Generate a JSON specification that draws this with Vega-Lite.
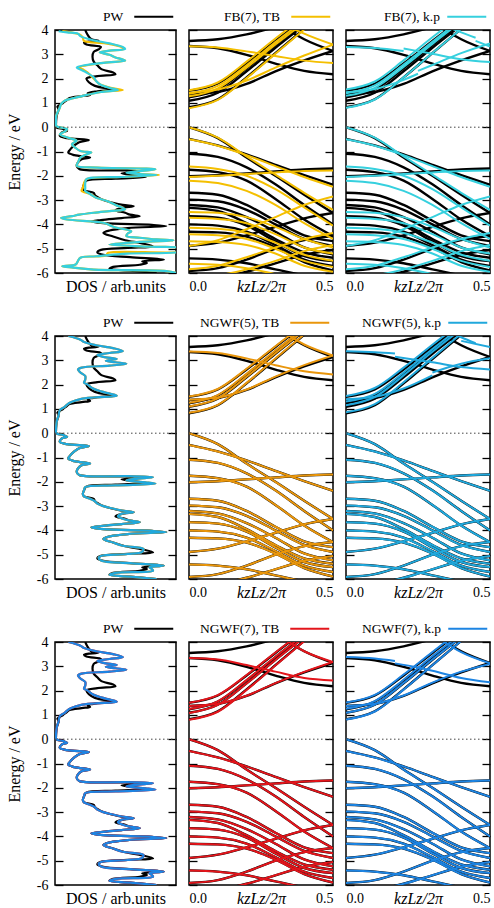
{
  "$schema": "https://vega.github.io/schema/vega-lite/v6.json",
  "padding": {"left": 5, "top": 9, "right": 0, "bottom": 0},
  "bounds": "flush",
  "columns": 3,
  "spacing": {"row": 63, "column": 13},
  "resolve": {"scale": {"stroke": "independent"}, "legend": {"stroke": "independent"}},
  "config": {
    "font": "Liberation Serif",
    "view": {"stroke": "#000", "strokeWidth": 1.5},
    "style": {"guide-label": {"font": "Liberation Serif", "fontWeight": "normal"}, "guide-title": {"font": "Liberation Serif", "fontWeight": "normal"}},
    "axis": {"grid": false, "domain": false, "tickColor": "#000", "labelColor": "#000", "titleColor": "#000", "labelFont": "Liberation Serif", "titleFont": "Liberation Serif", "labelFontSize": 14, "titleFontSize": 16, "titleFontWeight": "normal", "labelFontWeight": "normal"},
    "legend": {"orient": "none", "titleOrient": "left", "titleFont": "Liberation Serif", "titleFontSize": 13.5, "titleFontWeight": "normal", "titleColor": "#000", "titlePadding": 23, "symbolType": "M-39,0H39", "symbolSize": 1, "symbolStrokeWidth": 2, "labelFontSize": 13.5, "padding": 0}
  },
  "datasets": {
    "pw": [
      {"b":1,"k":0,"e":3.55},{"b":1,"k":0.1,"e":3.62},{"b":1,"k":0.2,"e":3.82},{"b":1,"k":0.3,"e":4.12},{"b":1,"k":0.4,"e":4.45},
      {"b":2,"k":0,"e":3.34},{"b":2,"k":0.1,"e":3.25},{"b":2,"k":0.2,"e":2.98},{"b":2,"k":0.3,"e":2.62},{"b":2,"k":0.4,"e":2.32},{"b":2,"k":0.5,"e":2.18},
      {"b":3,"k":0,"e":1.37},{"b":3,"k":0.1,"e":1.45},{"b":3,"k":0.2,"e":1.78},{"b":3,"k":0.3,"e":2.3},{"b":3,"k":0.4,"e":2.75},{"b":3,"k":0.5,"e":3.14},
      {"b":4,"k":0,"e":1.5},{"b":4,"k":0.1,"e":1.8},{"b":4,"k":0.2,"e":2.62},{"b":4,"k":0.3,"e":3.55},{"b":4,"k":0.4,"e":4.45},
      {"b":5,"k":0,"e":1.23},{"b":5,"k":0.1,"e":1.55},{"b":5,"k":0.2,"e":2.42},{"b":5,"k":0.3,"e":3.38},{"b":5,"k":0.4,"e":4.3},
      {"b":6,"k":0,"e":1.09},{"b":6,"k":0.1,"e":1.42},{"b":6,"k":0.2,"e":2.3},{"b":6,"k":0.3,"e":3.27},{"b":6,"k":0.4,"e":4.2},
      {"b":7,"k":0,"e":0.82},{"b":7,"k":0.1,"e":1.15},{"b":7,"k":0.2,"e":2.05},{"b":7,"k":0.3,"e":3.05},{"b":7,"k":0.4,"e":4.05},
      {"b":8,"k":0.25,"e":4.8},{"b":8,"k":0.3,"e":4.35},{"b":8,"k":0.4,"e":3.62},{"b":8,"k":0.5,"e":3.14},
      {"b":11,"k":0,"e":0},{"b":11,"k":0.1,"e":-0.45},{"b":11,"k":0.2,"e":-1.25},{"b":11,"k":0.3,"e":-2.0},{"b":11,"k":0.4,"e":-2.78},{"b":11,"k":0.5,"e":-3.53},
      {"b":12,"k":0,"e":-0.48},{"b":12,"k":0.1,"e":-0.75},{"b":12,"k":0.2,"e":-1.12},{"b":12,"k":0.3,"e":-1.55},{"b":12,"k":0.4,"e":-1.97},{"b":12,"k":0.5,"e":-2.37},
      {"b":13,"k":0,"e":-1.09},{"b":13,"k":0.1,"e":-1.22},{"b":13,"k":0.2,"e":-1.65},{"b":13,"k":0.3,"e":-2.35},{"b":13,"k":0.4,"e":-3.2},{"b":13,"k":0.5,"e":-4.0},
      {"b":14,"k":0,"e":-2.02},{"b":14,"k":0.1,"e":-1.98},{"b":14,"k":0.2,"e":-1.9},{"b":14,"k":0.3,"e":-1.82},{"b":14,"k":0.4,"e":-1.74},{"b":14,"k":0.5,"e":-1.7},
      {"b":15,"k":0,"e":-1.75},{"b":15,"k":0.1,"e":-1.85},{"b":15,"k":0.2,"e":-2.2},{"b":15,"k":0.3,"e":-2.95},{"b":15,"k":0.4,"e":-3.8},{"b":15,"k":0.5,"e":-4.48},
      {"b":16,"k":0,"e":-2.7},{"b":16,"k":0.1,"e":-2.78},{"b":16,"k":0.2,"e":-3.2},{"b":16,"k":0.3,"e":-3.85},{"b":16,"k":0.4,"e":-4.45},{"b":16,"k":0.5,"e":-4.69},
      {"b":17,"k":0,"e":-2.98},{"b":17,"k":0.1,"e":-3.05},{"b":17,"k":0.2,"e":-3.4},{"b":17,"k":0.3,"e":-4.0},{"b":17,"k":0.4,"e":-4.6},{"b":17,"k":0.5,"e":-4.89},
      {"b":18,"k":0,"e":-3.2},{"b":18,"k":0.1,"e":-3.3},{"b":18,"k":0.2,"e":-3.7},{"b":18,"k":0.3,"e":-4.3},{"b":18,"k":0.4,"e":-4.95},{"b":18,"k":0.5,"e":-5.23},
      {"b":19,"k":0,"e":-3.32},{"b":19,"k":0.1,"e":-3.45},{"b":19,"k":0.2,"e":-3.95},{"b":19,"k":0.3,"e":-4.6},{"b":19,"k":0.4,"e":-5.15},{"b":19,"k":0.5,"e":-5.37},
      {"b":20,"k":0,"e":-3.66},{"b":20,"k":0.1,"e":-3.72},{"b":20,"k":0.2,"e":-4.05},{"b":20,"k":0.3,"e":-4.7},{"b":20,"k":0.4,"e":-5.3},{"b":20,"k":0.5,"e":-5.51},
      {"b":21,"k":0,"e":-4.0},{"b":21,"k":0.1,"e":-4.05},{"b":21,"k":0.2,"e":-4.3},{"b":21,"k":0.3,"e":-4.85},{"b":21,"k":0.4,"e":-5.45},{"b":21,"k":0.5,"e":-5.71},
      {"b":22,"k":0,"e":-4.3},{"b":22,"k":0.1,"e":-4.33},{"b":22,"k":0.2,"e":-4.5},{"b":22,"k":0.3,"e":-4.95},{"b":22,"k":0.4,"e":-5.55},{"b":22,"k":0.5,"e":-5.9},
      {"b":23,"k":0,"e":-4.89},{"b":23,"k":0.1,"e":-4.75},{"b":23,"k":0.2,"e":-4.45},{"b":23,"k":0.3,"e":-4.1},{"b":23,"k":0.4,"e":-3.75},{"b":23,"k":0.5,"e":-3.53},
      {"b":24,"k":0,"e":-5.92},{"b":24,"k":0.1,"e":-5.8},{"b":24,"k":0.2,"e":-5.45},{"b":24,"k":0.3,"e":-5.0},{"b":24,"k":0.4,"e":-4.65},{"b":24,"k":0.5,"e":-4.48},
      {"b":25,"k":0,"e":-5.4},{"b":25,"k":0.1,"e":-5.45},{"b":25,"k":0.2,"e":-5.6},{"b":25,"k":0.3,"e":-5.85},{"b":25,"k":0.4,"e":-6.1},{"b":25,"k":0.5,"e":-6.3},
      {"b":26,"k":0,"e":-6.3},{"b":26,"k":0.1,"e":-6.2},{"b":26,"k":0.2,"e":-5.95},{"b":26,"k":0.3,"e":-5.6},{"b":26,"k":0.4,"e":-5.25},{"b":26,"k":0.5,"e":-5.05}
    ],
    "fb": [
      {"b":2,"k":0,"e":3.33},{"b":2,"k":0.1,"e":3.28},{"b":2,"k":0.2,"e":3.12},{"b":2,"k":0.3,"e":2.93},{"b":2,"k":0.4,"e":2.74},{"b":2,"k":0.5,"e":2.64},
      {"b":3,"k":0,"e":1.42},{"b":3,"k":0.1,"e":1.55},{"b":3,"k":0.2,"e":1.92},{"b":3,"k":0.3,"e":2.45},{"b":3,"k":0.4,"e":2.95},{"b":3,"k":0.5,"e":3.4},
      {"b":4,"k":0,"e":1.52},{"b":4,"k":0.1,"e":1.84},{"b":4,"k":0.2,"e":2.7},{"b":4,"k":0.3,"e":3.65},{"b":4,"k":0.4,"e":4.55},
      {"b":5,"k":0,"e":1.38},{"b":5,"k":0.1,"e":1.7},{"b":5,"k":0.2,"e":2.55},{"b":5,"k":0.3,"e":3.5},{"b":5,"k":0.4,"e":4.4},
      {"b":6,"k":0,"e":1.27},{"b":6,"k":0.1,"e":1.6},{"b":6,"k":0.2,"e":2.45},{"b":6,"k":0.3,"e":3.4},{"b":6,"k":0.4,"e":4.3},
      {"b":7,"k":0,"e":0.78},{"b":7,"k":0.1,"e":1.12},{"b":7,"k":0.2,"e":2.02},{"b":7,"k":0.3,"e":3.02},{"b":7,"k":0.4,"e":4.02},
      {"b":8,"k":0.25,"e":4.95},{"b":8,"k":0.3,"e":4.45},{"b":8,"k":0.4,"e":3.85},{"b":8,"k":0.5,"e":3.4},
      {"b":11,"k":0,"e":0},{"b":11,"k":0.1,"e":-0.43},{"b":11,"k":0.2,"e":-1.2},{"b":11,"k":0.3,"e":-1.95},{"b":11,"k":0.4,"e":-2.7},{"b":11,"k":0.5,"e":-3.4},
      {"b":12,"k":0,"e":-0.5},{"b":12,"k":0.1,"e":-0.76},{"b":12,"k":0.2,"e":-1.15},{"b":12,"k":0.3,"e":-1.6},{"b":12,"k":0.4,"e":-2.05},{"b":12,"k":0.5,"e":-2.45},
      {"b":13,"k":0,"e":-1.62},{"b":13,"k":0.1,"e":-1.72},{"b":13,"k":0.2,"e":-2.0},{"b":13,"k":0.3,"e":-2.55},{"b":13,"k":0.4,"e":-3.3},{"b":13,"k":0.5,"e":-4.05},
      {"b":14,"k":0,"e":-2.05},{"b":14,"k":0.1,"e":-2.0},{"b":14,"k":0.2,"e":-1.93},{"b":14,"k":0.3,"e":-1.86},{"b":14,"k":0.4,"e":-1.8},{"b":14,"k":0.5,"e":-1.78},
      {"b":15,"k":0,"e":-2.2},{"b":15,"k":0.1,"e":-2.3},{"b":15,"k":0.2,"e":-2.62},{"b":15,"k":0.3,"e":-3.2},{"b":15,"k":0.4,"e":-3.95},{"b":15,"k":0.5,"e":-4.6},
      {"b":16,"k":0,"e":-3.49},{"b":16,"k":0.1,"e":-3.52},{"b":16,"k":0.2,"e":-3.7},{"b":16,"k":0.3,"e":-4.1},{"b":16,"k":0.4,"e":-4.6},{"b":16,"k":0.5,"e":-4.95},
      {"b":17,"k":0,"e":-3.73},{"b":17,"k":0.1,"e":-3.78},{"b":17,"k":0.2,"e":-3.95},{"b":17,"k":0.3,"e":-4.4},{"b":17,"k":0.4,"e":-4.95},{"b":17,"k":0.5,"e":-5.2},
      {"b":18,"k":0,"e":-4.14},{"b":18,"k":0.1,"e":-4.18},{"b":18,"k":0.2,"e":-4.35},{"b":18,"k":0.3,"e":-4.75},{"b":18,"k":0.4,"e":-5.25},{"b":18,"k":0.5,"e":-5.5},
      {"b":19,"k":0,"e":-4.41},{"b":19,"k":0.1,"e":-4.45},{"b":19,"k":0.2,"e":-4.6},{"b":19,"k":0.3,"e":-5.0},{"b":19,"k":0.4,"e":-5.5},{"b":19,"k":0.5,"e":-5.75},
      {"b":20,"k":0,"e":-4.69},{"b":20,"k":0.1,"e":-4.72},{"b":20,"k":0.2,"e":-4.85},{"b":20,"k":0.3,"e":-5.2},{"b":20,"k":0.4,"e":-5.7},{"b":20,"k":0.5,"e":-5.95},
      {"b":23,"k":0,"e":-4.89},{"b":23,"k":0.1,"e":-4.65},{"b":23,"k":0.2,"e":-4.2},{"b":23,"k":0.3,"e":-3.7},{"b":23,"k":0.4,"e":-3.2},{"b":23,"k":0.5,"e":-2.85},
      {"b":24,"k":0,"e":-5.85},{"b":24,"k":0.1,"e":-5.7},{"b":24,"k":0.2,"e":-5.35},{"b":24,"k":0.3,"e":-4.95},{"b":24,"k":0.4,"e":-4.6},{"b":24,"k":0.5,"e":-4.35},
      {"b":25,"k":0,"e":-5.62},{"b":25,"k":0.1,"e":-5.66},{"b":25,"k":0.2,"e":-5.8},{"b":25,"k":0.3,"e":-6.05},{"b":25,"k":0.4,"e":-6.3},{"b":25,"k":0.5,"e":-6.5},
      {"b":26,"k":0,"e":-6.2},{"b":26,"k":0.1,"e":-6.1},{"b":26,"k":0.2,"e":-5.85},{"b":26,"k":0.3,"e":-5.5},{"b":26,"k":0.4,"e":-5.1},{"b":26,"k":0.5,"e":-4.85}
    ],
    "fbkp": [
      {"b":2,"k":0,"e":3.3},{"b":2,"k":0.1,"e":3.26},{"b":2,"k":0.2,"e":3.14},
      {"b":32,"k":0.2,"e":3.24},{"b":32,"k":0.3,"e":3.02},{"b":32,"k":0.4,"e":2.8},{"b":32,"k":0.5,"e":2.68},
      {"b":3,"k":0,"e":1.44},{"b":3,"k":0.1,"e":1.57},{"b":3,"k":0.2,"e":1.95},{"b":3,"k":0.25,"e":2.2},
      {"b":33,"k":0.25,"e":2.32},{"b":33,"k":0.3,"e":2.56},{"b":33,"k":0.4,"e":3.05},{"b":33,"k":0.5,"e":3.45},
      {"b":4,"k":0,"e":1.55},{"b":4,"k":0.1,"e":1.88},{"b":4,"k":0.2,"e":2.75},{"b":4,"k":0.3,"e":3.7},{"b":4,"k":0.4,"e":4.6},
      {"b":5,"k":0,"e":1.4},{"b":5,"k":0.1,"e":1.72},{"b":5,"k":0.2,"e":2.58},{"b":5,"k":0.3,"e":3.52},{"b":5,"k":0.4,"e":4.45},
      {"b":6,"k":0,"e":1.29},{"b":6,"k":0.1,"e":1.62},{"b":6,"k":0.2,"e":2.48},{"b":6,"k":0.3,"e":3.43},{"b":6,"k":0.4,"e":4.35},
      {"b":7,"k":0,"e":0.8},{"b":7,"k":0.1,"e":1.14},{"b":7,"k":0.2,"e":2.05},{"b":7,"k":0.3,"e":3.05},{"b":7,"k":0.4,"e":4.05},
      {"b":8,"k":0.3,"e":4.4},{"b":8,"k":0.4,"e":3.9},{"b":8,"k":0.45,"e":3.68},
      {"b":38,"k":0.45,"e":3.55},{"b":38,"k":0.5,"e":3.32}
    ],
    "n5c": [
      {"b":2,"k":0,"e":3.36},{"b":2,"k":0.1,"e":3.3},{"b":2,"k":0.2,"e":3.08},{"b":2,"k":0.3,"e":2.8},{"b":2,"k":0.4,"e":2.55},{"b":2,"k":0.5,"e":2.42},
      {"b":3,"k":0,"e":1.38},{"b":3,"k":0.1,"e":1.47},{"b":3,"k":0.2,"e":1.8},{"b":3,"k":0.3,"e":2.33},{"b":3,"k":0.4,"e":2.8},{"b":3,"k":0.5,"e":3.2},
      {"b":4,"k":0,"e":1.51},{"b":4,"k":0.1,"e":1.82},{"b":4,"k":0.2,"e":2.65},{"b":4,"k":0.3,"e":3.58},{"b":4,"k":0.4,"e":4.48},
      {"b":5,"k":0,"e":1.25},{"b":5,"k":0.1,"e":1.57},{"b":5,"k":0.2,"e":2.44},{"b":5,"k":0.3,"e":3.4},{"b":5,"k":0.4,"e":4.32},
      {"b":6,"k":0,"e":1.1},{"b":6,"k":0.1,"e":1.43},{"b":6,"k":0.2,"e":2.32},{"b":6,"k":0.3,"e":3.29},{"b":6,"k":0.4,"e":4.22},
      {"b":7,"k":0,"e":0.84},{"b":7,"k":0.1,"e":1.17},{"b":7,"k":0.2,"e":2.07},{"b":7,"k":0.3,"e":3.07},{"b":7,"k":0.4,"e":4.07},
      {"b":8,"k":0.25,"e":4.85},{"b":8,"k":0.3,"e":4.4},{"b":8,"k":0.4,"e":3.65},{"b":8,"k":0.5,"e":3.2}
    ],
    "n5kpc": [
      {"b":2,"k":0,"e":3.37},{"b":2,"k":0.1,"e":3.33},{"b":2,"k":0.17,"e":3.28},
      {"b":32,"k":0.17,"e":3.15},{"b":32,"k":0.3,"e":2.92},{"b":32,"k":0.4,"e":2.72},{"b":32,"k":0.5,"e":2.62},
      {"b":3,"k":0,"e":1.4},{"b":3,"k":0.1,"e":1.5},{"b":3,"k":0.2,"e":1.84},{"b":3,"k":0.3,"e":2.38},
      {"b":33,"k":0.3,"e":2.5},{"b":33,"k":0.4,"e":2.86},{"b":33,"k":0.5,"e":3.08},
      {"b":4,"k":0,"e":1.53},{"b":4,"k":0.1,"e":1.86},{"b":4,"k":0.2,"e":2.7},{"b":4,"k":0.3,"e":3.64},{"b":4,"k":0.4,"e":4.55},
      {"b":5,"k":0,"e":1.3},{"b":5,"k":0.1,"e":1.62},{"b":5,"k":0.2,"e":2.5},{"b":5,"k":0.3,"e":3.46},{"b":5,"k":0.4,"e":4.38},
      {"b":6,"k":0,"e":1.15},{"b":6,"k":0.1,"e":1.49},{"b":6,"k":0.2,"e":2.38},{"b":6,"k":0.3,"e":3.35},{"b":6,"k":0.4,"e":4.28},
      {"b":7,"k":0,"e":0.86},{"b":7,"k":0.1,"e":1.2},{"b":7,"k":0.2,"e":2.1},{"b":7,"k":0.3,"e":3.1},{"b":7,"k":0.4,"e":4.1},
      {"b":8,"k":0.3,"e":4.5},{"b":8,"k":0.4,"e":3.95},{"b":8,"k":0.45,"e":3.7},
      {"b":38,"k":0.4,"e":3.8},{"b":38,"k":0.5,"e":3.55}
    ],
    "n7c": [
      {"b":2,"k":0,"e":3.34},{"b":2,"k":0.1,"e":3.28},{"b":2,"k":0.2,"e":3.05},{"b":2,"k":0.3,"e":2.78},{"b":2,"k":0.4,"e":2.52},{"b":2,"k":0.5,"e":2.42},
      {"b":3,"k":0,"e":1.37},{"b":3,"k":0.1,"e":1.46},{"b":3,"k":0.2,"e":1.79},{"b":3,"k":0.3,"e":2.31},{"b":3,"k":0.4,"e":2.77},{"b":3,"k":0.5,"e":3.18},
      {"b":4,"k":0,"e":1.5},{"b":4,"k":0.1,"e":1.81},{"b":4,"k":0.2,"e":2.64},{"b":4,"k":0.3,"e":3.57},{"b":4,"k":0.4,"e":4.47},
      {"b":5,"k":0,"e":1.24},{"b":5,"k":0.1,"e":1.56},{"b":5,"k":0.2,"e":2.43},{"b":5,"k":0.3,"e":3.39},{"b":5,"k":0.4,"e":4.31},
      {"b":6,"k":0,"e":1.08},{"b":6,"k":0.1,"e":1.41},{"b":6,"k":0.2,"e":2.29},{"b":6,"k":0.3,"e":3.26},{"b":6,"k":0.4,"e":4.19},
      {"b":7,"k":0,"e":0.8},{"b":7,"k":0.1,"e":1.13},{"b":7,"k":0.2,"e":2.03},{"b":7,"k":0.3,"e":3.03},{"b":7,"k":0.4,"e":4.03},
      {"b":8,"k":0.25,"e":4.8},{"b":8,"k":0.3,"e":4.38},{"b":8,"k":0.4,"e":3.62},{"b":8,"k":0.5,"e":3.18}
    ],
    "n7kpc": [
      {"b":2,"k":0,"e":3.38},{"b":2,"k":0.1,"e":3.32},{"b":2,"k":0.17,"e":3.22},
      {"b":32,"k":0.17,"e":3.12},{"b":32,"k":0.25,"e":2.95},{"b":32,"k":0.3,"e":2.82},{"b":32,"k":0.4,"e":2.52},{"b":32,"k":0.5,"e":2.34},
      {"b":3,"k":0,"e":1.37},{"b":3,"k":0.1,"e":1.46},{"b":3,"k":0.2,"e":1.8},{"b":3,"k":0.3,"e":2.33},{"b":3,"k":0.4,"e":2.78},{"b":3,"k":0.5,"e":3.1},
      {"b":4,"k":0,"e":1.51},{"b":4,"k":0.1,"e":1.82},{"b":4,"k":0.2,"e":2.66},{"b":4,"k":0.3,"e":3.59},{"b":4,"k":0.4,"e":4.5},
      {"b":5,"k":0,"e":1.25},{"b":5,"k":0.1,"e":1.57},{"b":5,"k":0.2,"e":2.45},{"b":5,"k":0.3,"e":3.41},{"b":5,"k":0.4,"e":4.33},
      {"b":6,"k":0,"e":1.09},{"b":6,"k":0.1,"e":1.42},{"b":6,"k":0.2,"e":2.31},{"b":6,"k":0.3,"e":3.28},{"b":6,"k":0.4,"e":4.2},
      {"b":7,"k":0,"e":0.81},{"b":7,"k":0.1,"e":1.14},{"b":7,"k":0.2,"e":2.04},{"b":7,"k":0.3,"e":3.04},{"b":7,"k":0.4,"e":4.05},
      {"b":8,"k":0.3,"e":4.35},{"b":8,"k":0.4,"e":3.58},{"b":8,"k":0.5,"e":3.12}
    ],
    "dpw": [
      {"e":4.0,"d":0.25},{"e":3.8,"d":0.27},{"e":3.62,"d":0.3},{"e":3.56,"d":0.36},{"e":3.48,"d":0.24},{"e":3.4,"d":0.26},{"e":3.3,"d":0.38},{"e":3.2,"d":0.36},{"e":3.1,"d":0.32},{"e":2.9,"d":0.31},{"e":2.7,"d":0.32},{"e":2.55,"d":0.35},{"e":2.4,"d":0.38},{"e":2.25,"d":0.48},{"e":2.18,"d":0.5},{"e":2.1,"d":0.35},{"e":2.0,"d":0.26},{"e":1.85,"d":0.28},{"e":1.7,"d":0.33},{"e":1.58,"d":0.45},{"e":1.54,"d":0.5},{"e":1.48,"d":0.35},{"e":1.4,"d":0.27},{"e":1.33,"d":0.29},{"e":1.28,"d":0.22},{"e":1.2,"d":0.12},{"e":1.08,"d":0.09},{"e":0.95,"d":0.05},{"e":0.85,"d":0.02},{"e":0.74,"d":0.03},{"e":0.5,"d":0.015},{"e":0.3,"d":0.01},{"e":0.1,"d":0.008},{"e":0.0,"d":0.01},
      {"e":-0.08,"d":0.07},{"e":-0.15,"d":0.1},{"e":-0.22,"d":0.055},{"e":-0.36,"d":0.04},{"e":-0.45,"d":0.1},{"e":-0.53,"d":0.28},{"e":-0.62,"d":0.2},{"e":-0.75,"d":0.16},{"e":-0.95,"d":0.12},{"e":-1.05,"d":0.11},{"e":-1.15,"d":0.16},{"e":-1.25,"d":0.29},{"e":-1.32,"d":0.22},{"e":-1.45,"d":0.19},{"e":-1.6,"d":0.18},{"e":-1.72,"d":0.2},{"e":-1.78,"d":0.6},{"e":-1.82,"d":0.7},{"e":-1.9,"d":0.55},{"e":-1.95,"d":0.62},{"e":-2.05,"d":0.75},{"e":-2.12,"d":0.5},{"e":-2.2,"d":0.26},{"e":-2.35,"d":0.24},{"e":-2.5,"d":0.23},{"e":-2.6,"d":0.24},{"e":-2.7,"d":0.32},{"e":-2.8,"d":0.33},{"e":-2.9,"d":0.36},{"e":-3.0,"d":0.4},{"e":-3.1,"d":0.47},{"e":-3.2,"d":0.56},{"e":-3.25,"d":0.65},{"e":-3.32,"d":0.55},{"e":-3.42,"d":0.5},{"e":-3.52,"d":0.58},{"e":-3.6,"d":0.62},{"e":-3.66,"d":0.7},{"e":-3.74,"d":0.55},{"e":-3.82,"d":0.38},{"e":-3.88,"d":0.3},{"e":-3.95,"d":0.4},{"e":-4.02,"d":0.8},{"e":-4.07,"d":0.92},{"e":-4.15,"d":0.6},{"e":-4.25,"d":0.45},{"e":-4.35,"d":0.4},{"e":-4.5,"d":0.48},{"e":-4.65,"d":0.58},{"e":-4.78,"d":0.72},{"e":-4.9,"d":0.81},{"e":-4.97,"d":0.6},{"e":-5.05,"d":0.38},{"e":-5.15,"d":0.35},{"e":-5.25,"d":0.4},{"e":-5.35,"d":0.62},{"e":-5.45,"d":0.9},{"e":-5.52,"d":0.72},{"e":-5.59,"d":0.76},{"e":-5.66,"d":0.7},{"e":-5.75,"d":0.48},{"e":-5.83,"d":0.45},{"e":-5.9,"d":0.62},{"e":-6.0,"d":0.84}
    ],
    "dng": [
      {"e":4.0,"d":0.11},{"e":3.92,"d":0.17},{"e":3.85,"d":0.21},{"e":3.75,"d":0.24},{"e":3.62,"d":0.34},{"e":3.5,"d":0.48},{"e":3.38,"d":0.56},{"e":3.3,"d":0.45},{"e":3.22,"d":0.35},{"e":3.14,"d":0.4},{"e":3.05,"d":0.51},{"e":2.98,"d":0.42},{"e":2.92,"d":0.5},{"e":2.86,"d":0.59},{"e":2.78,"d":0.45},{"e":2.7,"d":0.22},{"e":2.62,"d":0.19},{"e":2.5,"d":0.21},{"e":2.35,"d":0.25},{"e":2.2,"d":0.25},{"e":2.08,"d":0.24},{"e":2.0,"d":0.27},{"e":1.85,"d":0.31},{"e":1.72,"d":0.38},{"e":1.62,"d":0.46},{"e":1.54,"d":0.51},{"e":1.47,"d":0.32},{"e":1.4,"d":0.21},{"e":1.29,"d":0.14},{"e":1.18,"d":0.1},{"e":1.08,"d":0.08},{"e":0.95,"d":0.04},{"e":0.74,"d":0.03},{"e":0.5,"d":0.015},{"e":0.3,"d":0.01},{"e":0.1,"d":0.008},{"e":0.0,"d":0.01},
      {"e":-0.08,"d":0.07},{"e":-0.15,"d":0.1},{"e":-0.22,"d":0.055},{"e":-0.36,"d":0.04},{"e":-0.45,"d":0.1},{"e":-0.53,"d":0.28},{"e":-0.62,"d":0.2},{"e":-0.75,"d":0.16},{"e":-0.95,"d":0.12},{"e":-1.05,"d":0.11},{"e":-1.15,"d":0.16},{"e":-1.25,"d":0.29},{"e":-1.32,"d":0.22},{"e":-1.45,"d":0.19},{"e":-1.6,"d":0.18},{"e":-1.72,"d":0.2},{"e":-1.77,"d":0.6},{"e":-1.81,"d":0.81},{"e":-1.88,"d":0.66},{"e":-1.94,"d":0.59},{"e":-2.02,"d":0.75},{"e":-2.08,"d":0.83},{"e":-2.15,"d":0.5},{"e":-2.22,"d":0.25},{"e":-2.35,"d":0.24},{"e":-2.5,"d":0.23},{"e":-2.6,"d":0.24},{"e":-2.7,"d":0.29},{"e":-2.8,"d":0.33},{"e":-2.9,"d":0.35},{"e":-3.0,"d":0.4},{"e":-3.08,"d":0.46},{"e":-3.18,"d":0.55},{"e":-3.25,"d":0.65},{"e":-3.32,"d":0.55},{"e":-3.42,"d":0.52},{"e":-3.52,"d":0.56},{"e":-3.6,"d":0.62},{"e":-3.66,"d":0.7},{"e":-3.74,"d":0.55},{"e":-3.82,"d":0.38},{"e":-3.88,"d":0.3},{"e":-3.95,"d":0.4},{"e":-4.02,"d":0.8},{"e":-4.07,"d":0.92},{"e":-4.15,"d":0.6},{"e":-4.25,"d":0.45},{"e":-4.35,"d":0.4},{"e":-4.5,"d":0.48},{"e":-4.63,"d":0.56},{"e":-4.76,"d":0.73},{"e":-4.88,"d":0.72},{"e":-4.97,"d":0.6},{"e":-5.05,"d":0.38},{"e":-5.12,"d":0.36},{"e":-5.24,"d":0.38},{"e":-5.35,"d":0.62},{"e":-5.45,"d":0.9},{"e":-5.52,"d":0.78},{"e":-5.59,"d":0.8},{"e":-5.66,"d":0.81},{"e":-5.75,"d":0.5},{"e":-5.83,"d":0.45},{"e":-5.9,"d":0.62},{"e":-6.0,"d":0.84}
    ],
    "dfbkp": [
      {"e":3.95,"d":0.03},{"e":3.9,"d":0.1},{"e":3.85,"d":0.19},{"e":3.75,"d":0.21},{"e":3.6,"d":0.3},{"e":3.45,"d":0.45},{"e":3.3,"d":0.56},{"e":3.22,"d":0.58},{"e":3.15,"d":0.45},{"e":3.08,"d":0.37},{"e":2.98,"d":0.45},{"e":2.87,"d":0.5},{"e":2.8,"d":0.55},{"e":2.74,"d":0.58},{"e":2.65,"d":0.4},{"e":2.46,"d":0.18},{"e":2.35,"d":0.22},{"e":2.25,"d":0.26},{"e":2.05,"d":0.32},{"e":1.9,"d":0.34},{"e":1.77,"d":0.37},{"e":1.62,"d":0.45},{"e":1.53,"d":0.52},{"e":1.45,"d":0.38},{"e":1.29,"d":0.23},{"e":1.18,"d":0.14},{"e":1.09,"d":0.08},{"e":0.95,"d":0.05},{"e":0.81,"d":0.04},{"e":0.47,"d":0.01},{"e":0.2,"d":0.008},{"e":0.05,"d":0.01},
      {"e":-0.08,"d":0.1},{"e":-0.18,"d":0.08},{"e":-0.29,"d":0.04},{"e":-0.45,"d":0.12},{"e":-0.56,"d":0.18},{"e":-0.7,"d":0.14},{"e":-0.85,"d":0.17},{"e":-0.98,"d":0.21},{"e":-1.04,"d":0.3},{"e":-1.12,"d":0.26},{"e":-1.25,"d":0.21},{"e":-1.45,"d":0.19},{"e":-1.59,"d":0.18},{"e":-1.66,"d":0.35},{"e":-1.73,"d":0.83},{"e":-1.8,"d":0.72},{"e":-1.87,"d":0.59},{"e":-1.93,"d":0.7},{"e":-1.97,"d":0.84},{"e":-2.05,"d":0.55},{"e":-2.14,"d":0.26},{"e":-2.3,"d":0.25},{"e":-2.5,"d":0.25},{"e":-2.62,"d":0.25},{"e":-2.75,"d":0.29},{"e":-2.9,"d":0.34},{"e":-3.04,"d":0.43},{"e":-3.2,"d":0.5},{"e":-3.38,"d":0.58},{"e":-3.45,"d":0.45},{"e":-3.52,"d":0.32},{"e":-3.6,"d":0.2},{"e":-3.66,"d":0.14},{"e":-3.73,"d":0.05},{"e":-3.8,"d":0.1},{"e":-3.93,"d":0.4},{"e":-4.05,"d":0.46},{"e":-4.14,"d":0.51},{"e":-4.28,"d":0.63},{"e":-4.38,"d":0.6},{"e":-4.48,"d":0.59},{"e":-4.55,"d":0.7},{"e":-4.62,"d":0.84},{"e":-4.66,"d":0.98},{"e":-4.72,"d":0.7},{"e":-4.83,"d":0.45},{"e":-4.92,"d":0.8},{"e":-4.99,"d":1.05},{"e":-5.1,"d":1.05},{"e":-5.2,"d":0.6},{"e":-5.31,"d":0.34},{"e":-5.37,"d":0.21},{"e":-5.5,"d":0.19},{"e":-5.65,"d":0.17},{"e":-5.72,"d":0.06},{"e":-5.78,"d":0.15},{"e":-5.86,"d":0.32},{"e":-5.92,"d":0.92},{"e":-6.0,"d":1.0}
    ],
    "dfbtb": [
      {"e":3.95,"d":0.06},{"e":3.88,"d":0.15},{"e":3.8,"d":0.21},{"e":3.68,"d":0.23},{"e":3.55,"d":0.24},{"e":3.45,"d":0.42},{"e":3.3,"d":0.55},{"e":3.22,"d":0.57},{"e":3.15,"d":0.45},{"e":3.08,"d":0.37},{"e":2.98,"d":0.45},{"e":2.87,"d":0.5},{"e":2.8,"d":0.55},{"e":2.74,"d":0.58},{"e":2.65,"d":0.4},{"e":2.46,"d":0.2},{"e":2.35,"d":0.24},{"e":2.25,"d":0.27},{"e":2.1,"d":0.3},{"e":1.9,"d":0.34},{"e":1.77,"d":0.37},{"e":1.62,"d":0.46},{"e":1.53,"d":0.56},{"e":1.45,"d":0.38},{"e":1.29,"d":0.23},{"e":1.18,"d":0.14},{"e":1.09,"d":0.08},{"e":0.95,"d":0.05},{"e":0.81,"d":0.04},{"e":0.47,"d":0.01},{"e":0.2,"d":0.008},{"e":0.05,"d":0.01},
      {"e":-0.08,"d":0.1},{"e":-0.18,"d":0.08},{"e":-0.29,"d":0.04},{"e":-0.45,"d":0.12},{"e":-0.56,"d":0.18},{"e":-0.7,"d":0.14},{"e":-0.85,"d":0.17},{"e":-0.98,"d":0.21},{"e":-1.04,"d":0.3},{"e":-1.12,"d":0.26},{"e":-1.25,"d":0.21},{"e":-1.45,"d":0.19},{"e":-1.59,"d":0.18},{"e":-1.66,"d":0.35},{"e":-1.73,"d":0.83},{"e":-1.8,"d":0.72},{"e":-1.87,"d":0.6},{"e":-1.93,"d":0.72},{"e":-1.97,"d":0.86},{"e":-2.05,"d":0.55},{"e":-2.14,"d":0.26},{"e":-2.3,"d":0.24},{"e":-2.5,"d":0.23},{"e":-2.62,"d":0.22},{"e":-2.75,"d":0.29},{"e":-2.9,"d":0.34},{"e":-3.04,"d":0.43},{"e":-3.2,"d":0.5},{"e":-3.38,"d":0.58},{"e":-3.45,"d":0.45},{"e":-3.52,"d":0.32},{"e":-3.6,"d":0.2},{"e":-3.66,"d":0.14},{"e":-3.73,"d":0.05},{"e":-3.8,"d":0.1},{"e":-3.93,"d":0.4},{"e":-4.05,"d":0.46},{"e":-4.14,"d":0.51},{"e":-4.28,"d":0.63},{"e":-4.38,"d":0.6},{"e":-4.48,"d":0.59},{"e":-4.55,"d":0.7},{"e":-4.62,"d":0.84},{"e":-4.66,"d":0.98},{"e":-4.72,"d":0.7},{"e":-4.83,"d":0.45},{"e":-4.92,"d":0.8},{"e":-4.99,"d":1.05},{"e":-5.1,"d":1.05},{"e":-5.17,"d":0.44},{"e":-5.28,"d":0.42},{"e":-5.37,"d":0.21},{"e":-5.5,"d":0.19},{"e":-5.65,"d":0.17},{"e":-5.72,"d":0.06},{"e":-5.78,"d":0.15},{"e":-5.86,"d":0.32},{"e":-5.92,"d":0.92},{"e":-6.0,"d":1.0}
    ]
  },
  "concat": [
    {
      "width": 121, "height": 243,
      "resolve": {"axis": {"y": "independent"}},
      "layer": [
        {"data": {"name": "dpw"}, "mark": {"type": "line", "interpolate": "catmull-rom", "clip": true, "strokeWidth": 2.2},
         "encoding": {
           "x": {"field": "d", "type": "quantitative", "scale": {"domain": [0, 1], "nice": false, "zero": false}, "axis": {"labels": false, "ticks": false, "title": "DOS / arb.units", "titleFont": "Liberation Serif", "titleFontSize": 16, "titleFontWeight": "normal", "titlePadding": 5}},
           "y": {"field": "e", "type": "quantitative", "scale": {"domain": [-6, 4], "nice": false, "zero": false}, "axis": {"orient": "left", "values": [-6,-5,-4,-3,-2,-1,0,1,2,3,4], "tickSize": -8, "tickWidth": 1.3, "labelExpr": "'' + datum.value", "labelFont": "Liberation Serif", "labelFontSize": 14, "labelPadding": 15, "title": "Energy / eV", "titleFont": "Liberation Serif", "titleFontSize": 16, "titleFontWeight": "normal", "titlePadding": 14}},
           "order": {"field": "e", "sort": "descending"},
           "stroke": {"datum": "PW", "type": "nominal", "scale": {"domain": ["PW", "FB(7), TB", "FB(7), k.p"], "range": ["#000000", "#f4bf00", "#36d0de"]}, "legend": {"values": ["PW"], "title": "PW", "legendX": 48, "legendY": -20, "labelExpr": "''"}}
         }},
        {"data": {"name": "dfbtb"}, "mark": {"type": "line", "interpolate": "catmull-rom", "clip": true, "strokeWidth": 2.2},
         "encoding": {
           "x": {"field": "d", "type": "quantitative"},
           "y": {"field": "e", "type": "quantitative", "axis": {"orient": "right", "values": [-6,-5,-4,-3,-2,-1,0,1,2,3,4], "tickSize": -8, "tickWidth": 1.3, "labels": false, "title": null}},
           "order": {"field": "e", "sort": "descending"},
           "stroke": {"datum": "FB(7), TB", "type": "nominal"}
         }},
        {"data": {"name": "dfbkp"}, "mark": {"type": "line", "interpolate": "catmull-rom", "clip": true, "strokeWidth": 2.2},
         "encoding": {
           "x": {"field": "d", "type": "quantitative"},
           "y": {"field": "e", "type": "quantitative", "axis": null},
           "order": {"field": "e", "sort": "descending"},
           "stroke": {"datum": "FB(7), k.p", "type": "nominal"}
         }},
        {"data": {"values": [{}]}, "mark": {"type": "rule", "strokeDash": [1.5, 2.5], "strokeWidth": 1, "color": "#444"},
         "encoding": {"x": {"datum": 0, "type": "quantitative"}, "x2": {"datum": 1}, "y": {"datum": 0, "type": "quantitative", "axis": null}}}
      ]
    },
    {
      "width": 144, "height": 243,
      "resolve": {"axis": {"y": "independent"}},
      "layer": [
        {"data": {"name": "pw"}, "mark": {"type": "line", "interpolate": "monotone", "clip": true, "strokeWidth": 2.4},
         "encoding": {
           "x": {"field": "k", "type": "quantitative", "scale": {"domain": [0, 0.5], "nice": false, "zero": false}, "axis": {"values": [0, 0.5], "format": ".1f", "labelFlush": true, "ticks": false, "labelFont": "Liberation Serif", "labelFontSize": 14, "labelPadding": 6, "title": "kzLz/2π", "titleFont": "Liberation Serif", "titleFontSize": 16, "titleFontStyle": "italic", "titleFontWeight": "normal", "titlePadding": -15}},
           "y": {"field": "e", "type": "quantitative", "scale": {"domain": [-6, 4], "nice": false, "zero": false}, "axis": {"orient": "left", "values": [-6,-5,-4,-3,-2,-1,0,1,2,3,4], "tickSize": -8, "tickWidth": 1.3, "labels": false, "title": null}},
           "detail": {"field": "b", "type": "nominal"},
           "stroke": {"datum": "PW", "type": "nominal", "scale": {"domain": ["PW", "FB(7), TB"], "range": ["#000000", "#f4bf00"]}, "legend": {"values": ["FB(7), TB"], "title": "FB(7), TB", "legendX": 35, "legendY": -20, "labelExpr": "''"}}
         }},
        {"data": {"name": "fb"}, "mark": {"type": "line", "interpolate": "monotone", "clip": true, "strokeWidth": 2.0},
         "encoding": {
           "x": {"field": "k", "type": "quantitative"},
           "y": {"field": "e", "type": "quantitative", "axis": {"orient": "right", "values": [-6,-5,-4,-3,-2,-1,0,1,2,3,4], "tickSize": -8, "tickWidth": 1.3, "labels": false, "title": null}},
           "detail": {"field": "b", "type": "nominal"},
           "stroke": {"datum": "FB(7), TB", "type": "nominal"}
         }},
        {"data": {"values": [{}]}, "mark": {"type": "rule", "strokeDash": [1.5, 2.5], "strokeWidth": 1, "color": "#444"},
         "encoding": {"x": {"datum": 0, "type": "quantitative"}, "x2": {"datum": 0.5}, "y": {"datum": 0, "type": "quantitative", "axis": null}}}
      ]
    },
    {
      "width": 144, "height": 243,
      "resolve": {"axis": {"y": "independent"}},
      "layer": [
        {"data": {"name": "pw"}, "mark": {"type": "line", "interpolate": "monotone", "clip": true, "strokeWidth": 2.4},
         "encoding": {
           "x": {"field": "k", "type": "quantitative", "scale": {"domain": [0, 0.5], "nice": false, "zero": false}, "axis": {"values": [0, 0.5], "format": ".1f", "labelFlush": true, "ticks": false, "labelFont": "Liberation Serif", "labelFontSize": 14, "labelPadding": 6, "title": "kzLz/2π", "titleFont": "Liberation Serif", "titleFontSize": 16, "titleFontStyle": "italic", "titleFontWeight": "normal", "titlePadding": -15}},
           "y": {"field": "e", "type": "quantitative", "scale": {"domain": [-6, 4], "nice": false, "zero": false}, "axis": {"orient": "left", "values": [-6,-5,-4,-3,-2,-1,0,1,2,3,4], "tickSize": -8, "tickWidth": 1.3, "labels": false, "title": null}},
           "detail": {"field": "b", "type": "nominal"},
           "stroke": {"datum": "PW", "type": "nominal", "scale": {"domain": ["PW", "FB(7), k.p"], "range": ["#000000", "#36d0de"]}, "legend": {"values": ["FB(7), k.p"], "title": "FB(7), k.p", "legendX": 38, "legendY": -20, "titlePadding": 20, "labelExpr": "''"}}
         }},
        {"data": {"name": "fbkp"}, "mark": {"type": "line", "interpolate": "monotone", "clip": true, "strokeWidth": 2.0},
         "encoding": {
           "x": {"field": "k", "type": "quantitative"},
           "y": {"field": "e", "type": "quantitative", "axis": {"orient": "right", "values": [-6,-5,-4,-3,-2,-1,0,1,2,3,4], "tickSize": -8, "tickWidth": 1.3, "labels": false, "title": null}},
           "detail": {"field": "b", "type": "nominal"},
           "stroke": {"datum": "FB(7), k.p", "type": "nominal"}
         }},
        {"data": {"name": "fb"}, "transform": [{"filter": {"field": "b", "gte": 11}}], "mark": {"type": "line", "interpolate": "monotone", "clip": true, "strokeWidth": 2.0},
         "encoding": {
           "x": {"field": "k", "type": "quantitative"},
           "y": {"field": "e", "type": "quantitative", "axis": null},
           "detail": {"field": "b", "type": "nominal"},
           "stroke": {"datum": "FB(7), k.p", "type": "nominal"}
         }},
        {"data": {"values": [{}]}, "mark": {"type": "rule", "strokeDash": [1.5, 2.5], "strokeWidth": 1, "color": "#444"},
         "encoding": {"x": {"datum": 0, "type": "quantitative"}, "x2": {"datum": 0.5}, "y": {"datum": 0, "type": "quantitative", "axis": null}}}
      ]
    },
    {
      "width": 121, "height": 243,
      "resolve": {"axis": {"y": "independent"}},
      "layer": [
        {"data": {"name": "dpw"}, "mark": {"type": "line", "interpolate": "catmull-rom", "clip": true, "strokeWidth": 2.2},
         "encoding": {
           "x": {"field": "d", "type": "quantitative", "scale": {"domain": [0, 1], "nice": false, "zero": false}, "axis": {"labels": false, "ticks": false, "title": "DOS / arb.units", "titleFont": "Liberation Serif", "titleFontSize": 16, "titleFontWeight": "normal", "titlePadding": 5}},
           "y": {"field": "e", "type": "quantitative", "scale": {"domain": [-6, 4], "nice": false, "zero": false}, "axis": {"orient": "left", "values": [-6,-5,-4,-3,-2,-1,0,1,2,3,4], "tickSize": -8, "tickWidth": 1.3, "labelExpr": "'' + datum.value", "labelFont": "Liberation Serif", "labelFontSize": 14, "labelPadding": 15, "title": "Energy / eV", "titleFont": "Liberation Serif", "titleFontSize": 16, "titleFontWeight": "normal", "titlePadding": 14}},
           "order": {"field": "e", "sort": "descending"},
           "stroke": {"datum": "PW", "type": "nominal", "scale": {"domain": ["PW", "NGWF(5), TB", "NGWF(5), k.p"], "range": ["#000000", "#e9960c", "#20a8dc"]}, "legend": {"values": ["PW"], "title": "PW", "legendX": 48, "legendY": -20, "labelExpr": "''"}}
         }},
        {"data": {"name": "dng"}, "mark": {"type": "line", "interpolate": "catmull-rom", "clip": true, "strokeWidth": 2.2},
         "encoding": {
           "x": {"field": "d", "type": "quantitative"},
           "y": {"field": "e", "type": "quantitative", "axis": {"orient": "right", "values": [-6,-5,-4,-3,-2,-1,0,1,2,3,4], "tickSize": -8, "tickWidth": 1.3, "labels": false, "title": null}},
           "order": {"field": "e", "sort": "descending"},
           "stroke": {"datum": "NGWF(5), TB", "type": "nominal"}
         }},
        {"data": {"name": "dng"}, "mark": {"type": "line", "interpolate": "catmull-rom", "clip": true, "strokeWidth": 2.2},
         "encoding": {
           "x": {"field": "d", "type": "quantitative"},
           "y": {"field": "e", "type": "quantitative", "axis": null},
           "order": {"field": "e", "sort": "descending"},
           "stroke": {"datum": "NGWF(5), k.p", "type": "nominal"}
         }},
        {"data": {"values": [{}]}, "mark": {"type": "rule", "strokeDash": [1.5, 2.5], "strokeWidth": 1, "color": "#444"},
         "encoding": {"x": {"datum": 0, "type": "quantitative"}, "x2": {"datum": 1}, "y": {"datum": 0, "type": "quantitative", "axis": null}}}
      ]
    },
    {
      "width": 144, "height": 243,
      "resolve": {"axis": {"y": "independent"}},
      "layer": [
        {"data": {"name": "pw"}, "mark": {"type": "line", "interpolate": "monotone", "clip": true, "strokeWidth": 2.4},
         "encoding": {
           "x": {"field": "k", "type": "quantitative", "scale": {"domain": [0, 0.5], "nice": false, "zero": false}, "axis": {"values": [0, 0.5], "format": ".1f", "labelFlush": true, "ticks": false, "labelFont": "Liberation Serif", "labelFontSize": 14, "labelPadding": 6, "title": "kzLz/2π", "titleFont": "Liberation Serif", "titleFontSize": 16, "titleFontStyle": "italic", "titleFontWeight": "normal", "titlePadding": -15}},
           "y": {"field": "e", "type": "quantitative", "scale": {"domain": [-6, 4], "nice": false, "zero": false}, "axis": {"orient": "left", "values": [-6,-5,-4,-3,-2,-1,0,1,2,3,4], "tickSize": -8, "tickWidth": 1.3, "labels": false, "title": null}},
           "detail": {"field": "b", "type": "nominal"},
           "stroke": {"datum": "PW", "type": "nominal", "scale": {"domain": ["PW", "NGWF(5), TB"], "range": ["#000000", "#e9960c"]}, "legend": {"values": ["NGWF(5), TB"], "title": "NGWF(5), TB", "legendX": 11, "legendY": -20, "labelExpr": "''"}}
         }},
        {"data": {"name": "n5c"}, "mark": {"type": "line", "interpolate": "monotone", "clip": true, "strokeWidth": 2.0},
         "encoding": {
           "x": {"field": "k", "type": "quantitative"},
           "y": {"field": "e", "type": "quantitative", "axis": {"orient": "right", "values": [-6,-5,-4,-3,-2,-1,0,1,2,3,4], "tickSize": -8, "tickWidth": 1.3, "labels": false, "title": null}},
           "detail": {"field": "b", "type": "nominal"},
           "stroke": {"datum": "NGWF(5), TB", "type": "nominal"}
         }},
        {"data": {"name": "pw"}, "transform": [{"filter": {"field": "b", "gte": 11}}], "mark": {"type": "line", "interpolate": "monotone", "clip": true, "strokeWidth": 2.0},
         "encoding": {
           "x": {"field": "k", "type": "quantitative"},
           "y": {"field": "e", "type": "quantitative", "axis": null},
           "detail": {"field": "b", "type": "nominal"},
           "stroke": {"datum": "NGWF(5), TB", "type": "nominal"}
         }},
        {"data": {"values": [{}]}, "mark": {"type": "rule", "strokeDash": [1.5, 2.5], "strokeWidth": 1, "color": "#444"},
         "encoding": {"x": {"datum": 0, "type": "quantitative"}, "x2": {"datum": 0.5}, "y": {"datum": 0, "type": "quantitative", "axis": null}}}
      ]
    },
    {
      "width": 144, "height": 243,
      "resolve": {"axis": {"y": "independent"}},
      "layer": [
        {"data": {"name": "pw"}, "mark": {"type": "line", "interpolate": "monotone", "clip": true, "strokeWidth": 2.4},
         "encoding": {
           "x": {"field": "k", "type": "quantitative", "scale": {"domain": [0, 0.5], "nice": false, "zero": false}, "axis": {"values": [0, 0.5], "format": ".1f", "labelFlush": true, "ticks": false, "labelFont": "Liberation Serif", "labelFontSize": 14, "labelPadding": 6, "title": "kzLz/2π", "titleFont": "Liberation Serif", "titleFontSize": 16, "titleFontStyle": "italic", "titleFontWeight": "normal", "titlePadding": -15}},
           "y": {"field": "e", "type": "quantitative", "scale": {"domain": [-6, 4], "nice": false, "zero": false}, "axis": {"orient": "left", "values": [-6,-5,-4,-3,-2,-1,0,1,2,3,4], "tickSize": -8, "tickWidth": 1.3, "labels": false, "title": null}},
           "detail": {"field": "b", "type": "nominal"},
           "stroke": {"datum": "PW", "type": "nominal", "scale": {"domain": ["PW", "NGWF(5), k.p"], "range": ["#000000", "#20a8dc"]}, "legend": {"values": ["NGWF(5), k.p"], "title": "NGWF(5), k.p", "legendX": 16, "legendY": -20, "titlePadding": 19, "labelExpr": "''"}}
         }},
        {"data": {"name": "n5kpc"}, "mark": {"type": "line", "interpolate": "monotone", "clip": true, "strokeWidth": 2.0},
         "encoding": {
           "x": {"field": "k", "type": "quantitative"},
           "y": {"field": "e", "type": "quantitative", "axis": {"orient": "right", "values": [-6,-5,-4,-3,-2,-1,0,1,2,3,4], "tickSize": -8, "tickWidth": 1.3, "labels": false, "title": null}},
           "detail": {"field": "b", "type": "nominal"},
           "stroke": {"datum": "NGWF(5), k.p", "type": "nominal"}
         }},
        {"data": {"name": "pw"}, "transform": [{"filter": {"field": "b", "gte": 11}}], "mark": {"type": "line", "interpolate": "monotone", "clip": true, "strokeWidth": 2.0},
         "encoding": {
           "x": {"field": "k", "type": "quantitative"},
           "y": {"field": "e", "type": "quantitative", "axis": null},
           "detail": {"field": "b", "type": "nominal"},
           "stroke": {"datum": "NGWF(5), k.p", "type": "nominal"}
         }},
        {"data": {"values": [{}]}, "mark": {"type": "rule", "strokeDash": [1.5, 2.5], "strokeWidth": 1, "color": "#444"},
         "encoding": {"x": {"datum": 0, "type": "quantitative"}, "x2": {"datum": 0.5}, "y": {"datum": 0, "type": "quantitative", "axis": null}}}
      ]
    },
    {
      "width": 121, "height": 243,
      "resolve": {"axis": {"y": "independent"}},
      "layer": [
        {"data": {"name": "dpw"}, "mark": {"type": "line", "interpolate": "catmull-rom", "clip": true, "strokeWidth": 2.2},
         "encoding": {
           "x": {"field": "d", "type": "quantitative", "scale": {"domain": [0, 1], "nice": false, "zero": false}, "axis": {"labels": false, "ticks": false, "title": "DOS / arb.units", "titleFont": "Liberation Serif", "titleFontSize": 16, "titleFontWeight": "normal", "titlePadding": 5}},
           "y": {"field": "e", "type": "quantitative", "scale": {"domain": [-6, 4], "nice": false, "zero": false}, "axis": {"orient": "left", "values": [-6,-5,-4,-3,-2,-1,0,1,2,3,4], "tickSize": -8, "tickWidth": 1.3, "labelExpr": "'' + datum.value", "labelFont": "Liberation Serif", "labelFontSize": 14, "labelPadding": 15, "title": "Energy / eV", "titleFont": "Liberation Serif", "titleFontSize": 16, "titleFontWeight": "normal", "titlePadding": 14}},
           "order": {"field": "e", "sort": "descending"},
           "stroke": {"datum": "PW", "type": "nominal", "scale": {"domain": ["PW", "NGWF(7), TB", "NGWF(7), k.p"], "range": ["#000000", "#e3151b", "#1d84e2"]}, "legend": {"values": ["PW"], "title": "PW", "legendX": 48, "legendY": -20, "labelExpr": "''"}}
         }},
        {"data": {"name": "dng"}, "mark": {"type": "line", "interpolate": "catmull-rom", "clip": true, "strokeWidth": 2.2},
         "encoding": {
           "x": {"field": "d", "type": "quantitative"},
           "y": {"field": "e", "type": "quantitative", "axis": {"orient": "right", "values": [-6,-5,-4,-3,-2,-1,0,1,2,3,4], "tickSize": -8, "tickWidth": 1.3, "labels": false, "title": null}},
           "order": {"field": "e", "sort": "descending"},
           "stroke": {"datum": "NGWF(7), TB", "type": "nominal"}
         }},
        {"data": {"name": "dng"}, "mark": {"type": "line", "interpolate": "catmull-rom", "clip": true, "strokeWidth": 2.2},
         "encoding": {
           "x": {"field": "d", "type": "quantitative"},
           "y": {"field": "e", "type": "quantitative", "axis": null},
           "order": {"field": "e", "sort": "descending"},
           "stroke": {"datum": "NGWF(7), k.p", "type": "nominal"}
         }},
        {"data": {"values": [{}]}, "mark": {"type": "rule", "strokeDash": [1.5, 2.5], "strokeWidth": 1, "color": "#444"},
         "encoding": {"x": {"datum": 0, "type": "quantitative"}, "x2": {"datum": 1}, "y": {"datum": 0, "type": "quantitative", "axis": null}}}
      ]
    },
    {
      "width": 144, "height": 243,
      "resolve": {"axis": {"y": "independent"}},
      "layer": [
        {"data": {"name": "pw"}, "mark": {"type": "line", "interpolate": "monotone", "clip": true, "strokeWidth": 2.4},
         "encoding": {
           "x": {"field": "k", "type": "quantitative", "scale": {"domain": [0, 0.5], "nice": false, "zero": false}, "axis": {"values": [0, 0.5], "format": ".1f", "labelFlush": true, "ticks": false, "labelFont": "Liberation Serif", "labelFontSize": 14, "labelPadding": 6, "title": "kzLz/2π", "titleFont": "Liberation Serif", "titleFontSize": 16, "titleFontStyle": "italic", "titleFontWeight": "normal", "titlePadding": -15}},
           "y": {"field": "e", "type": "quantitative", "scale": {"domain": [-6, 4], "nice": false, "zero": false}, "axis": {"orient": "left", "values": [-6,-5,-4,-3,-2,-1,0,1,2,3,4], "tickSize": -8, "tickWidth": 1.3, "labels": false, "title": null}},
           "detail": {"field": "b", "type": "nominal"},
           "stroke": {"datum": "PW", "type": "nominal", "scale": {"domain": ["PW", "NGWF(7), TB"], "range": ["#000000", "#e3151b"]}, "legend": {"values": ["NGWF(7), TB"], "title": "NGWF(7), TB", "legendX": 11, "legendY": -20, "labelExpr": "''"}}
         }},
        {"data": {"name": "n7c"}, "mark": {"type": "line", "interpolate": "monotone", "clip": true, "strokeWidth": 2.0},
         "encoding": {
           "x": {"field": "k", "type": "quantitative"},
           "y": {"field": "e", "type": "quantitative", "axis": {"orient": "right", "values": [-6,-5,-4,-3,-2,-1,0,1,2,3,4], "tickSize": -8, "tickWidth": 1.3, "labels": false, "title": null}},
           "detail": {"field": "b", "type": "nominal"},
           "stroke": {"datum": "NGWF(7), TB", "type": "nominal"}
         }},
        {"data": {"name": "pw"}, "transform": [{"filter": {"field": "b", "gte": 11}}], "mark": {"type": "line", "interpolate": "monotone", "clip": true, "strokeWidth": 2.0},
         "encoding": {
           "x": {"field": "k", "type": "quantitative"},
           "y": {"field": "e", "type": "quantitative", "axis": null},
           "detail": {"field": "b", "type": "nominal"},
           "stroke": {"datum": "NGWF(7), TB", "type": "nominal"}
         }},
        {"data": {"values": [{}]}, "mark": {"type": "rule", "strokeDash": [1.5, 2.5], "strokeWidth": 1, "color": "#444"},
         "encoding": {"x": {"datum": 0, "type": "quantitative"}, "x2": {"datum": 0.5}, "y": {"datum": 0, "type": "quantitative", "axis": null}}}
      ]
    },
    {
      "width": 144, "height": 243,
      "resolve": {"axis": {"y": "independent"}},
      "layer": [
        {"data": {"name": "pw"}, "mark": {"type": "line", "interpolate": "monotone", "clip": true, "strokeWidth": 2.4},
         "encoding": {
           "x": {"field": "k", "type": "quantitative", "scale": {"domain": [0, 0.5], "nice": false, "zero": false}, "axis": {"values": [0, 0.5], "format": ".1f", "labelFlush": true, "ticks": false, "labelFont": "Liberation Serif", "labelFontSize": 14, "labelPadding": 6, "title": "kzLz/2π", "titleFont": "Liberation Serif", "titleFontSize": 16, "titleFontStyle": "italic", "titleFontWeight": "normal", "titlePadding": -15}},
           "y": {"field": "e", "type": "quantitative", "scale": {"domain": [-6, 4], "nice": false, "zero": false}, "axis": {"orient": "left", "values": [-6,-5,-4,-3,-2,-1,0,1,2,3,4], "tickSize": -8, "tickWidth": 1.3, "labels": false, "title": null}},
           "detail": {"field": "b", "type": "nominal"},
           "stroke": {"datum": "PW", "type": "nominal", "scale": {"domain": ["PW", "NGWF(7), k.p"], "range": ["#000000", "#1d84e2"]}, "legend": {"values": ["NGWF(7), k.p"], "title": "NGWF(7), k.p", "legendX": 16, "legendY": -20, "titlePadding": 19, "labelExpr": "''"}}
         }},
        {"data": {"name": "n7kpc"}, "mark": {"type": "line", "interpolate": "monotone", "clip": true, "strokeWidth": 2.0},
         "encoding": {
           "x": {"field": "k", "type": "quantitative"},
           "y": {"field": "e", "type": "quantitative", "axis": {"orient": "right", "values": [-6,-5,-4,-3,-2,-1,0,1,2,3,4], "tickSize": -8, "tickWidth": 1.3, "labels": false, "title": null}},
           "detail": {"field": "b", "type": "nominal"},
           "stroke": {"datum": "NGWF(7), k.p", "type": "nominal"}
         }},
        {"data": {"name": "pw"}, "transform": [{"filter": {"field": "b", "gte": 11}}], "mark": {"type": "line", "interpolate": "monotone", "clip": true, "strokeWidth": 2.0},
         "encoding": {
           "x": {"field": "k", "type": "quantitative"},
           "y": {"field": "e", "type": "quantitative", "axis": null},
           "detail": {"field": "b", "type": "nominal"},
           "stroke": {"datum": "NGWF(7), k.p", "type": "nominal"}
         }},
        {"data": {"values": [{}]}, "mark": {"type": "rule", "strokeDash": [1.5, 2.5], "strokeWidth": 1, "color": "#444"},
         "encoding": {"x": {"datum": 0, "type": "quantitative"}, "x2": {"datum": 0.5}, "y": {"datum": 0, "type": "quantitative", "axis": null}}}
      ]
    }
  ]
}
